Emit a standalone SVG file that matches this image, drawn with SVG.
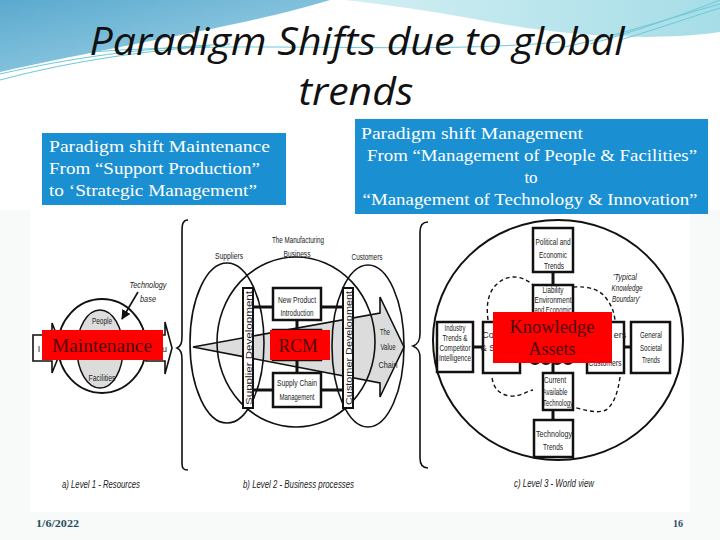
<svg xmlns="http://www.w3.org/2000/svg" width="720" height="540" viewBox="0 0 720 540">
<defs>
<linearGradient id="gBlue" x1="0" y1="0" x2="1" y2="1">
<stop offset="0" stop-color="#5aa9cf"/>
<stop offset="1" stop-color="#a8d8e8"/>
</linearGradient>
<linearGradient id="gCyan" x1="0" y1="0" x2="1" y2="0">
<stop offset="0" stop-color="#d3eff3"/>
<stop offset="1" stop-color="#a6dde7"/>
</linearGradient>
<marker id="ah" viewBox="0 0 10 10" refX="9" refY="5" markerWidth="6" markerHeight="6" orient="auto">
<path d="M0,0 L10,5 L0,10 Z" fill="#111"/>
</marker>
<style>
.t{font-family:"Liberation Sans Narrow","Liberation Sans",Arial,sans-serif;font-size:9px;fill:#222;text-anchor:middle}
.it{font-style:italic}
.lbl{font-family:"Liberation Sans Narrow","Liberation Sans",Arial,sans-serif;font-size:11px;font-style:italic;fill:#222}
.box{fill:#fff;stroke:#111;stroke-width:2.5}
.ln{stroke:#111;stroke-width:1.6;fill:none}
.conn{stroke:#111;stroke-width:3;fill:none}
.dash{stroke:#111;stroke-width:1.4;stroke-dasharray:4 3;fill:none}
.blue{fill:#1a8fd1}
.bt{font-family:"Liberation Serif",serif;font-size:17px;fill:#fff}
.red{fill:#ff0000}
.rt{font-family:"Liberation Serif",serif;font-size:18px;fill:#4a0a0a;text-anchor:middle}
.title{font-family:"Open Sans","Liberation Sans",sans-serif;font-style:italic;font-size:38px;fill:#111;text-anchor:middle}
.ft{font-family:"Liberation Serif",serif;font-size:10px;font-weight:bold;fill:#1f4f5f}
</style>
</defs>

<!-- background -->
<rect x="0" y="0" width="720" height="540" fill="#f8f9f9"/>
<rect x="0" y="0" width="720" height="210" fill="#ffffff"/>
<rect x="30" y="205" width="660" height="307" fill="#ffffff"/>
<path d="M0,0 H330 C250,25 120,45 0,72 Z" fill="url(#gBlue)"/>
<path d="M345,0 H720 V32 C650,42 560,36 480,20 C430,11 390,5 345,0 Z" fill="url(#gCyan)"/>
<g fill="none" stroke="#6cc9d8" stroke-width="1">
<path d="M0,80 C60,64 130,52 210,46"/>
<path d="M0,74 C70,58 140,48 230,44"/>
<path d="M90,52 C250,40 420,55 560,42"/>
<path d="M560,48 C620,35 680,15 720,4"/>
<path d="M590,44 C640,30 690,12 720,0"/>
<path d="M620,40 C660,28 700,14 720,8"/>
</g>

<!-- title -->
<text class="title" x="357" y="55" textLength="535" lengthAdjust="spacingAndGlyphs">Paradigm Shifts due to global</text>
<text class="title" x="356" y="105" textLength="115" lengthAdjust="spacingAndGlyphs">trends</text>

<!-- blue boxes -->
<g id="box-maintenance">
<rect class="blue" x="42" y="133" width="244" height="72"/>
<text class="bt" x="49" y="152" textLength="221" lengthAdjust="spacingAndGlyphs">Paradigm shift Maintenance</text>
<text class="bt" x="49" y="174" textLength="211" lengthAdjust="spacingAndGlyphs">From “Support Production”</text>
<text class="bt" x="49" y="196" textLength="208" lengthAdjust="spacingAndGlyphs">to ‘Strategic Management”</text>
</g>
<g id="box-management">
<rect class="blue" x="355" y="119" width="353" height="95"/>
<text class="bt" x="361" y="139" textLength="222" lengthAdjust="spacingAndGlyphs">Paradigm shift Management</text>
<text class="bt" x="532" y="161" text-anchor="middle" textLength="330" lengthAdjust="spacingAndGlyphs">From “Management of People &amp; Facilities”</text>
<text class="bt" x="531" y="183" text-anchor="middle">to</text>
<text class="bt" x="530" y="205" text-anchor="middle" textLength="335" lengthAdjust="spacingAndGlyphs">“Management of Technology &amp; Innovation”</text>
</g>

<!-- Level 1 -->
<g id="level1">
<ellipse cx="102" cy="346" rx="44" ry="47" fill="#fff" stroke="#111" stroke-width="1.8"/>
<ellipse cx="100" cy="349" rx="23" ry="39" fill="#dcdcdc" stroke="#111" stroke-width="1.5"/>
<polygon points="33,335 52,335 52,323 62,348 52,373 52,361 33,361" fill="#fff" stroke="#111" stroke-width="1.6"/>
<polygon points="146,335 165,335 165,322 172,348 165,374 165,361 146,361" fill="#fff" stroke="#111" stroke-width="1.6"/>
<text class="t" x="39" y="352">I</text>
<text class="t" x="162" y="352" text-anchor="start">ou</text>
<text class="t" x="102" y="324" textLength="20" lengthAdjust="spacingAndGlyphs">People</text>
<text class="t" x="102" y="381" textLength="27" lengthAdjust="spacingAndGlyphs">Facilities</text>
<text class="t it" x="148" y="288" textLength="37" lengthAdjust="spacingAndGlyphs">Technology</text>
<text class="t it" x="148" y="302" textLength="16" lengthAdjust="spacingAndGlyphs">base</text>
<rect class="red" x="42" y="330" width="121" height="30"/>
<text class="rt" x="102" y="352" textLength="100" lengthAdjust="spacingAndGlyphs">Maintenance</text>
<text class="lbl" x="62" y="488" textLength="78" lengthAdjust="spacingAndGlyphs">a) Level 1 - Resources</text>
</g>

<!-- braces -->
<g id="braces" class="ln">
<path d="M188,220 C183,220 182,224 182,231 V336 C182,343 181,346 177,348 C181,350 182,353 182,360 V463 C182,468 183,470 188,470"/>
<path d="M428,222 C422,222 420,226 420,232 V334 C420,341 418,344 413,346 C418,348 420,351 420,358 V458 C420,464 422,468 428,468"/>
</g>

<!-- Level 2 -->
<g id="level2">
<polygon points="193,347 380,313 380,297 404,347 380,397 380,383" fill="#dcdcdc" stroke="#111" stroke-width="1.6"/>
<ellipse class="ln" cx="227" cy="343" rx="37" ry="80"/>
<ellipse class="ln" cx="296" cy="342" rx="79" ry="85"/>
<ellipse class="ln" cx="368" cy="346" rx="36" ry="81"/>
<text class="t" x="229" y="259" textLength="28" lengthAdjust="spacingAndGlyphs">Suppliers</text>
<text class="t" x="298" y="243" textLength="52" lengthAdjust="spacingAndGlyphs">The Manufacturing</text>
<text class="t" x="297" y="257" textLength="27" lengthAdjust="spacingAndGlyphs">Business</text>
<text class="t" x="367" y="260" textLength="31" lengthAdjust="spacingAndGlyphs">Customers</text>
<text class="t" x="385" y="335" textLength="10" lengthAdjust="spacingAndGlyphs">The</text>
<text class="t" x="388" y="350" textLength="15" lengthAdjust="spacingAndGlyphs">Value</text>
<text class="t" x="388" y="368" textLength="19" lengthAdjust="spacingAndGlyphs">Chain</text>
</g>
<g id="supplier-dev">
<rect x="243" y="288" width="10" height="120" fill="#fff" stroke="#111" stroke-width="2"/>
<text class="t" transform="translate(251.5,348) rotate(-90)" x="0" y="0" font-size="10" textLength="114" lengthAdjust="spacingAndGlyphs">Supplier Development</text>
</g>
<g id="customer-dev">
<rect x="343" y="288" width="10" height="120" fill="#fff" stroke="#111" stroke-width="2"/>
<text class="t" transform="translate(351.5,348) rotate(-90)" x="0" y="0" font-size="10" textLength="114" lengthAdjust="spacingAndGlyphs">Customer Development</text>
</g>
<g id="npi">
<rect class="box" x="273" y="288" width="48" height="32"/>
<text class="t" x="297" y="303" textLength="38" lengthAdjust="spacingAndGlyphs">New Product</text>
<text class="t" x="297" y="316" textLength="33" lengthAdjust="spacingAndGlyphs">Introduction</text>
</g>
<g id="scm">
<rect class="box" x="273" y="373" width="48" height="34"/>
<text class="t" x="297" y="386" textLength="40" lengthAdjust="spacingAndGlyphs">Supply Chain</text>
<text class="t" x="297" y="400" textLength="35" lengthAdjust="spacingAndGlyphs">Management</text>
</g>
<g id="rcm">
<rect class="box" x="273" y="330" width="48" height="30"/>
<rect class="red" x="270" y="330" width="60" height="30"/>
<text class="rt" x="298" y="352" textLength="39" lengthAdjust="spacingAndGlyphs">RCM</text>
</g>
<text class="lbl" x="243" y="488" textLength="111" lengthAdjust="spacingAndGlyphs">b) Level 2 - Business processes</text>

<!-- Level 3 -->
<g id="level3-circle">
<ellipse cx="558" cy="340" rx="125" ry="120" fill="none" stroke="#111" stroke-width="2"/>
<path class="dash" d="M488,320 C486,305 488,292 497,284 C507,274 522,275 533,285"/>
<path class="dash" d="M573,287 C590,286 600,290 606,298 C612,306 614,312 615,320"/>
<path class="dash" d="M492,378 C494,388 498,394 510,396 C520,397 527,391 533,390"/>
<path class="dash" d="M620,377 C618,392 614,404 606,410 C597,414 585,410 573,407"/>
<text class="t it" x="625" y="280" textLength="24" lengthAdjust="spacingAndGlyphs">'Typical</text>
<text class="t it" x="627" y="291" textLength="31" lengthAdjust="spacingAndGlyphs">Knowledge</text>
<text class="t it" x="626" y="302" textLength="28" lengthAdjust="spacingAndGlyphs">Boundary'</text>
</g>
<g id="connectors">
<line class="conn" x1="553" y1="272" x2="553" y2="285"/>
<line class="conn" x1="473" y1="347" x2="483" y2="347"/>
<line class="conn" x1="624" y1="347" x2="631" y2="347"/>
<line class="conn" x1="553" y1="363" x2="553" y2="373"/>
<line class="conn" x1="553" y1="410" x2="553" y2="420"/>
<line class="conn" x1="253" y1="307" x2="273" y2="307"/>
<line class="conn" x1="321" y1="307" x2="343" y2="307"/>
<line class="conn" x1="253" y1="390" x2="273" y2="390"/>
<line class="conn" x1="321" y1="390" x2="343" y2="390"/>
<line class="conn" x1="297" y1="320" x2="297" y2="330"/>
<line class="conn" x1="297" y1="360" x2="297" y2="373"/>
<line x1="138" y1="292" x2="122" y2="319" stroke="#111" stroke-width="1.6" marker-end="url(#ah)"/>
</g>
<g id="political">
<rect class="box" x="533" y="228" width="40" height="44"/>
<text class="t" x="553" y="245" textLength="35" lengthAdjust="spacingAndGlyphs">Political and</text>
<text class="t" x="553" y="258" textLength="28" lengthAdjust="spacingAndGlyphs">Economic</text>
<text class="t" x="554" y="269" textLength="20" lengthAdjust="spacingAndGlyphs">Trends</text>
</g>
<g id="liability">
<rect class="box" x="533" y="285" width="40" height="32"/>
<text class="t" x="553" y="293" textLength="21" lengthAdjust="spacingAndGlyphs">Liability</text>
<text class="t" x="553" y="303" textLength="37" lengthAdjust="spacingAndGlyphs">Environment</text>
<text class="t" x="553" y="313" textLength="37" lengthAdjust="spacingAndGlyphs">and Economic</text>
</g>
<g id="industry">
<rect class="box" x="437" y="322" width="36" height="50"/>
<text class="t" x="455" y="331" font-size="8" textLength="21" lengthAdjust="spacingAndGlyphs">Industry</text>
<text class="t" x="455" y="341" font-size="8" textLength="25" lengthAdjust="spacingAndGlyphs">Trends &amp;</text>
<text class="t" x="455" y="351" font-size="8" textLength="31" lengthAdjust="spacingAndGlyphs">Competitor</text>
<text class="t" x="455" y="361" font-size="8" textLength="32" lengthAdjust="spacingAndGlyphs">Intelligence</text>
</g>
<g id="competitors">
<rect class="box" x="483" y="322" width="37" height="51"/>
<text class="t" x="488" y="338" text-anchor="start">Co</text>
<text class="t" x="488" y="351" text-anchor="start">&amp; S</text>
</g>
<g id="customers">
<rect class="box" x="587" y="322" width="37" height="51"/>
<text class="t" x="620" y="338" text-anchor="end">ers</text>
<text class="t" x="605" y="366" textLength="33" lengthAdjust="spacingAndGlyphs">Customers</text>
</g>
<g id="general">
<rect class="box" x="631" y="322" width="39" height="51"/>
<text class="t" x="651" y="338" textLength="22" lengthAdjust="spacingAndGlyphs">General</text>
<text class="t" x="651" y="351" textLength="22" lengthAdjust="spacingAndGlyphs">Societal</text>
<text class="t" x="651" y="363" textLength="18" lengthAdjust="spacingAndGlyphs">Trends</text>
</g>
<g id="hub" fill="none" stroke="#111" stroke-width="2.2">
<circle cx="535" cy="359" r="5"/>
<circle cx="546" cy="359" r="5"/>
<circle cx="557" cy="359" r="5"/>
<circle cx="568" cy="359" r="5"/>
</g>
<g id="current-tech">
<rect class="box" x="543" y="373" width="30" height="37"/>
<text class="t" x="555" y="383" textLength="22" lengthAdjust="spacingAndGlyphs">Current</text>
<text class="t" x="555" y="395" textLength="25" lengthAdjust="spacingAndGlyphs">Available</text>
<text class="t" x="558" y="406" textLength="30" lengthAdjust="spacingAndGlyphs">Technology</text>
</g>
<g id="tech-trends">
<rect class="box" x="534" y="420" width="39" height="37"/>
<text class="t" x="554" y="437" textLength="36" lengthAdjust="spacingAndGlyphs">Technology</text>
<text class="t" x="553" y="450" textLength="20" lengthAdjust="spacingAndGlyphs">Trends</text>
</g>
<g id="knowledge-assets">
<rect class="red" x="493" y="312" width="119" height="51"/>
<text class="rt" x="552" y="333" textLength="85" lengthAdjust="spacingAndGlyphs">Knowledge</text>
<text class="rt" x="552" y="355" textLength="47" lengthAdjust="spacingAndGlyphs">Assets</text>
</g>
<text class="lbl" x="514" y="487" textLength="80" lengthAdjust="spacingAndGlyphs">c) Level 3 - World view</text>

<!-- footer -->
<text class="ft" x="36" y="527" textLength="43" lengthAdjust="spacingAndGlyphs">1/6/2022</text>
<text class="ft" x="673" y="527">16</text>
</svg>
